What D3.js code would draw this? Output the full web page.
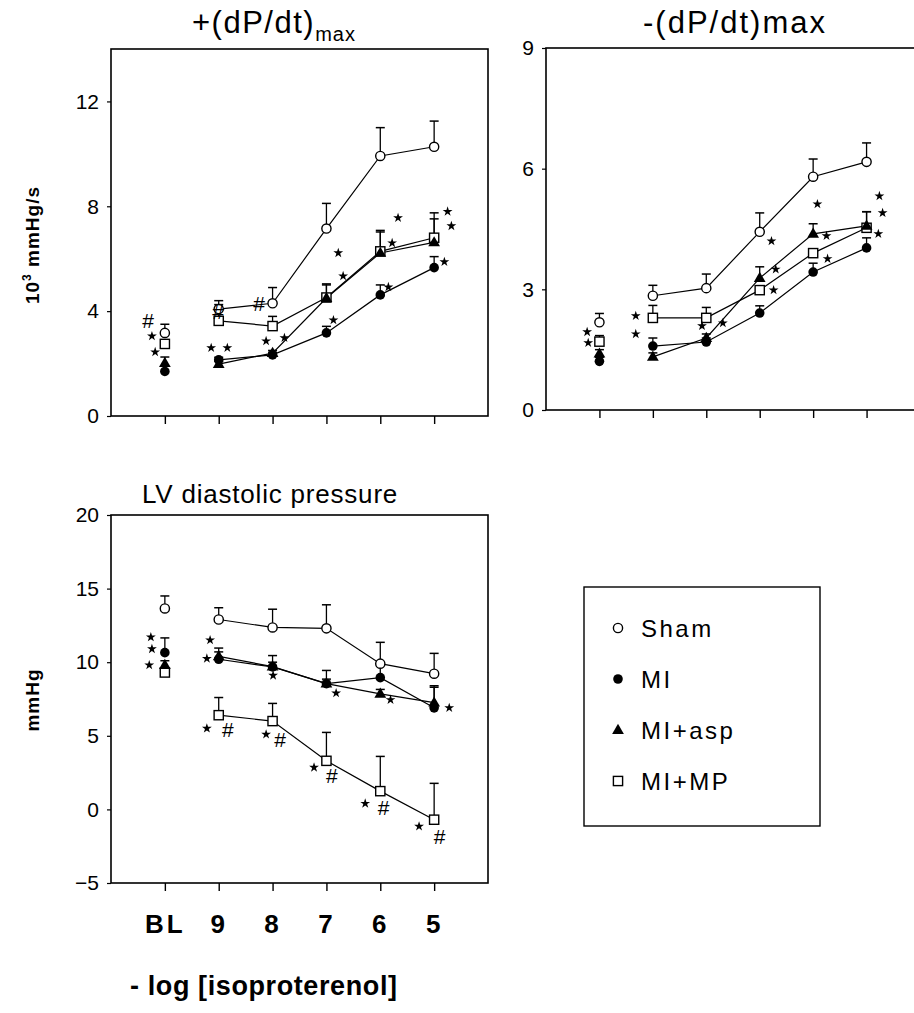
<!DOCTYPE html>
<html>
<head>
<meta charset="utf-8">
<script src="https://cdn.jsdelivr.net/npm/d3@7/dist/d3.min.js"></script>
<style>
  html, body { margin: 0; padding: 0; background: #fff; }
  svg { display: block; }
  text { font-family: "Liberation Sans", Arial, Helvetica, sans-serif; fill: #000; }
</style>
</head>
<body>
<svg id="chart" width="914" height="1013"></svg>
<script>
// ---------- DATA ----------
const categories = ["BL", "9", "8", "7", "6", "5"];
const groups = ["Sham", "MI", "MI+asp", "MI+MP"];

// +(dP/dt)max, 10^3 mmHg/s (mean, SEM)
const posSham = [3.17, 4.08, 4.30, 7.15, 9.92, 10.27];
const posShamErr = [0.33, 0.32, 0.60, 0.96, 1.08, 0.98];
const posMI = [1.70, 2.14, 2.33, 3.17, 4.62, 5.66];
const posMIErr = [0.20, 0.10, 0.10, 0.25, 0.38, 0.42];
const posAsp = [2.02, 1.98, 2.40, 4.50, 6.22, 6.62];
const posAspErr = [0.23, 0.10, 0.10, 0.50, 0.80, 0.90];
const posMP = [2.75, 3.63, 3.43, 4.52, 6.28, 6.80];
const posMPErr = [0.10, 0.62, 0.37, 0.52, 0.80, 0.95];

// -(dP/dt)max
const negSham = [2.18, 2.84, 3.03, 4.43, 5.80, 6.17];
const negShamErr = [0.22, 0.26, 0.35, 0.47, 0.44, 0.47];
const negMI = [1.21, 1.59, 1.69, 2.41, 3.43, 4.03];
const negMIErr = [0.10, 0.20, 0.10, 0.18, 0.22, 0.25];
const negAsp = [1.40, 1.32, 1.79, 3.28, 4.38, 4.58];
const negAspErr = [0.10, 0.10, 0.10, 0.28, 0.25, 0.35];
const negMP = [1.70, 2.29, 2.29, 2.98, 3.90, 4.53];
const negMPErr = [0.15, 0.31, 0.26, 0.10, 0.10, 0.40];

// LV diastolic pressure, mmHg
const lvSham = [13.65, 12.90, 12.36, 12.30, 9.90, 9.22];
const lvShamErr = [0.85, 0.80, 1.24, 1.60, 1.45, 1.38];
const lvMI = [10.65, 10.20, 9.68, 8.54, 8.95, 6.90];
const lvMIErr = [1.00, 0.76, 0.77, 0.90, 0.90, 1.50];
const lvAsp = [9.80, 10.40, 9.70, 8.55, 7.85, 7.25];
const lvAspErr = [0.30, 0.30, 0.30, 0.30, 0.30, 1.05];
const lvMP = [9.30, 6.40, 6.00, 3.30, 1.24, -0.70];
const lvMPErr = [0.20, 1.20, 1.20, 1.93, 2.36, 2.47];

const posTicks = [0, 4, 8, 12];
const negTicks = [0, 3, 6, 9];
const lvTicks = [-5, 0, 5, 10, 15, 20];

// significance marks: [x position (BL = 1 ... 5 = 6), value, symbol]
const posMarks = [
  [0.69, 3.66, "#"], [0.76, 3.05, "*"], [0.82, 2.44, "*"],
  [1.86, 2.60, "*"], [2.16, 2.60, "*"], [1.99, 3.97, "#"],
  [2.75, 4.30, "#"], [2.88, 2.86, "*"], [3.22, 2.98, "*"],
  [4.13, 3.66, "*"], [4.31, 5.34, "*"], [4.22, 6.22, "*"],
  [5.33, 7.56, "*"], [5.22, 6.60, "*"], [5.15, 4.92, "*"],
  [6.25, 7.80, "*"], [6.32, 7.25, "*"], [6.19, 5.88, "*"]
];
const negMarks = [
  [0.77, 1.94, "*"], [0.79, 1.67, "*"], [1.68, 2.34, "*"], [1.68, 1.89, "*"],
  [2.92, 2.09, "*"], [3.31, 2.16, "*"], [4.22, 4.20, "*"], [4.30, 3.50, "*"],
  [4.26, 2.98, "*"], [5.08, 5.12, "*"], [5.25, 4.33, "*"], [5.27, 3.76, "*"],
  [6.24, 5.32, "*"], [6.30, 4.90, "*"], [6.22, 4.38, "*"]
];
const lvMarks = [
  [0.74, 11.7, "*"], [0.76, 10.9, "*"], [0.71, 9.8, "*"],
  [1.84, 11.5, "*"], [1.78, 10.25, "*"], [3.01, 9.1, "*"],
  [4.18, 7.9, "*"], [5.19, 7.45, "*"], [6.28, 6.9, "*"],
  [1.78, 5.5, "*"], [2.17, 5.4, "#"], [2.88, 5.1, "*"], [3.14, 4.75, "#"],
  [3.77, 2.85, "*"], [4.10, 2.3, "#"], [4.72, 0.4, "*"], [5.06, 0.12, "#"],
  [5.72, -1.15, "*"], [6.10, -1.83, "#"]
];

// ---------- DRAW ----------
const svg = d3.select("#chart");

const panels = [
  { x0: 111, x1: 488, y0: 49, y1: 416, domain: [0, 14], ticks: posTicks,
    series: [[posSham, posShamErr], [posMI, posMIErr], [posAsp, posAspErr], [posMP, posMPErr]],
    marks: posMarks, labels: false },
  { x0: 546, x1: 920, y0: 48, y1: 410, domain: [0, 9], ticks: negTicks,
    series: [[negSham, negShamErr], [negMI, negMIErr], [negAsp, negAspErr], [negMP, negMPErr]],
    marks: negMarks, labels: false },
  { x0: 111, x1: 488, y0: 515, y1: 883, domain: [-5, 20], ticks: lvTicks,
    series: [[lvSham, lvShamErr], [lvMI, lvMIErr], [lvAsp, lvAspErr], [lvMP, lvMPErr]],
    marks: lvMarks, labels: true }
];

// draw order: back to front
const drawOrder = [0, 3, 2, 1];

function symbol(g, groupIdx, cx, cy) {
  if (groupIdx === 0) {
    g.append("circle").attr("cx", cx).attr("cy", cy).attr("r", 4.6)
      .attr("fill", "#fff").attr("stroke", "#000").attr("stroke-width", 1.4);
  } else if (groupIdx === 1) {
    g.append("circle").attr("cx", cx).attr("cy", cy).attr("r", 4.8)
      .attr("fill", "#000");
  } else if (groupIdx === 2) {
    g.append("path").attr("d", d3.symbol(d3.symbolTriangle, 60)())
      .attr("transform", `translate(${cx},${cy + 0.5})`).attr("fill", "#000");
  } else {
    g.append("rect").attr("x", cx - 4.6).attr("y", cy - 4.6).attr("width", 9.2).attr("height", 9.2)
      .attr("fill", "#fff").attr("stroke", "#000").attr("stroke-width", 1.4);
  }
}

panels.forEach(p => {
  const x = d3.scaleLinear().domain([0, 7]).range([p.x0, p.x1]);
  const y = d3.scaleLinear().domain(p.domain).range([p.y1, p.y0]);
  const g = svg.append("g");

  // frame
  g.append("rect").attr("x", p.x0).attr("y", p.y0)
    .attr("width", p.x1 - p.x0).attr("height", p.y1 - p.y0)
    .attr("fill", "none").attr("stroke", "#000").attr("stroke-width", 1.6);

  // y axis
  const ya = g.append("g").attr("transform", `translate(${p.x0},0)`)
    .call(d3.axisLeft(y).tickValues(p.ticks).tickSize(4).tickPadding(8));
  ya.select(".domain").remove();
  ya.selectAll("text").style("font-size", "21px")
    .style("font-family", "Liberation Sans, Arial, sans-serif").style("fill", "#000");
  ya.selectAll("line").attr("stroke-width", 1.2);

  // x axis
  const xa = g.append("g").attr("transform", `translate(0,${p.y1})`)
    .call(d3.axisBottom(x).tickValues(d3.range(1, 7)).tickSize(8).tickPadding(24)
      .tickFormat(i => p.labels ? categories[i - 1] : ""));
  xa.select(".domain").remove();
  xa.selectAll("line").attr("stroke-width", 1.4);
  xa.selectAll("text").style("font-size", "26px").style("font-weight", "bold")
    .style("letter-spacing", "3px").style("fill", "#000")
    .style("font-family", "Liberation Sans, Arial, sans-serif");

  // lines (exclude BL)
  const line = d3.line().x((d, i) => x(i + 2)).y(d => y(d));
  drawOrder.forEach(gi => {
    const vals = p.series[gi][0];
    g.append("path").attr("d", line(vals.slice(1)))
      .attr("fill", "none").attr("stroke", "#000").attr("stroke-width", 1.2);
  });

  // error bars (upward)
  drawOrder.forEach(gi => {
    const [vals, errs] = p.series[gi];
    vals.forEach((v, i) => {
      const cx = x(i + 1), top = y(v + errs[i]);
      g.append("line").attr("x1", cx).attr("x2", cx).attr("y1", y(v)).attr("y2", top)
        .attr("stroke", "#000").attr("stroke-width", 1.3);
      g.append("line").attr("x1", cx - 4.5).attr("x2", cx + 4.5).attr("y1", top).attr("y2", top)
        .attr("stroke", "#000").attr("stroke-width", 1.5);
    });
  });

  // symbols
  drawOrder.forEach(gi => {
    const vals = p.series[gi][0];
    vals.forEach((v, i) => symbol(g, gi, x(i + 1), y(v)));
  });

  // significance marks
  p.marks.forEach(([mx, mv, s]) => {
    if (s === "*") {
      g.append("path").attr("d", d3.symbol(d3.symbolStar, 30)())
        .attr("transform", `translate(${x(mx)},${y(mv)})`).attr("fill", "#000");
    } else {
      g.append("text").attr("x", x(mx)).attr("y", y(mv)).attr("dy", "0.36em")
        .attr("text-anchor", "middle").style("font-size", "21px").style("fill", "#000").text("#");
    }
  });
});

// titles
const t1 = svg.append("text").attr("x", 192).attr("y", 33)
  .style("font-size", "31px").style("letter-spacing", "1.5px");
t1.append("tspan").text("+(dP/dt)");
t1.append("tspan").attr("dy", 8).style("font-size", "20px").style("letter-spacing", "1px").text("max");

svg.append("text").attr("x", 735).attr("y", 33).attr("text-anchor", "middle")
  .style("font-size", "31px").style("letter-spacing", "2px").text("-(dP/dt)max");

svg.append("text").attr("x", 270).attr("y", 503).attr("text-anchor", "middle")
  .style("font-size", "26px").style("letter-spacing", "0.8px").text("LV diastolic pressure");

// y-axis titles
const yt = svg.append("text").attr("transform", "translate(39,245) rotate(-90)")
  .attr("text-anchor", "middle").style("font-size", "19px").style("font-weight", "bold")
  .style("letter-spacing", "1px");
yt.append("tspan").text("10");
yt.append("tspan").attr("dy", -8).style("font-size", "12px").text("3");
yt.append("tspan").attr("dy", 8).text(" mmHg/s");

svg.append("text").attr("transform", "translate(39,700) rotate(-90)")
  .attr("text-anchor", "middle").style("font-size", "19px").style("font-weight", "bold")
  .style("letter-spacing", "1px").text("mmHg");

// x-axis title
svg.append("text").attr("x", 130).attr("y", 995).style("font-size", "27px")
  .style("font-weight", "bold").style("letter-spacing", "0.6px").text("- log [isoproterenol]");

// legend
const lg = svg.append("g");
lg.append("rect").attr("x", 584).attr("y", 587).attr("width", 236).attr("height", 239)
  .attr("fill", "#fff").attr("stroke", "#000").attr("stroke-width", 1.4);
groups.forEach((name, i) => {
  const cy = 628 + i * 51;
  symbol(lg, i, 618, cy);
  lg.append("text").attr("x", 641).attr("y", cy).attr("dy", "0.36em")
    .style("font-size", "24px").style("letter-spacing", "2.5px").text(name);
});
</script>
</body>
</html>
